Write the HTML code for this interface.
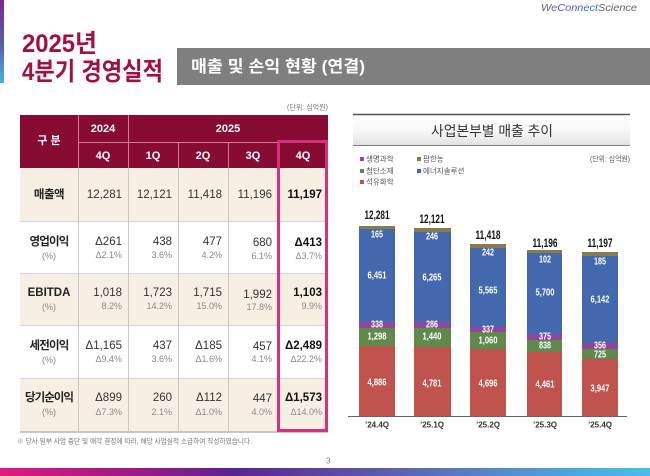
<!DOCTYPE html>
<html><head><meta charset="utf-8">
<style>
html,body{margin:0;padding:0;background:#fff;}
body{width:650px;height:476px;overflow:hidden;position:relative;font-family:"Liberation Sans","Noto Sans CJK KR",sans-serif;}
svg text{font-family:"Liberation Sans","Noto Sans CJK KR",sans-serif;}
</style></head>
<body>
<svg width="650" height="476" viewBox="0 0 650 476" xmlns="http://www.w3.org/2000/svg" style="position:absolute;left:0;top:0">
<defs>
<linearGradient id="lbar" x1="0" y1="0" x2="0" y2="1">
<stop offset="0" stop-color="#7b2a8c"/><stop offset="0.5" stop-color="#5a5aa8"/><stop offset="1" stop-color="#46b2e2"/>
</linearGradient>
<linearGradient id="bbar" x1="0" y1="0" x2="1" y2="0">
<stop offset="0" stop-color="#e2187f"/><stop offset="0.2" stop-color="#a01887"/><stop offset="0.36" stop-color="#5a2490"/><stop offset="0.6" stop-color="#5d5eaf"/><stop offset="0.85" stop-color="#4f9fd8"/><stop offset="1" stop-color="#47bfe9"/>
</linearGradient>
<linearGradient id="tband" x1="0" y1="0" x2="0" y2="1">
<stop offset="0" stop-color="#ffffff"/><stop offset="0.55" stop-color="#f7f7f7"/><stop offset="1" stop-color="#e2e2e2"/>
</linearGradient>
<linearGradient id="logo" x1="0" y1="0" x2="1" y2="0">
<stop offset="0" stop-color="#8a3a9a"/><stop offset="0.5" stop-color="#3a6ec0"/><stop offset="1" stop-color="#2aa6b8"/>
</linearGradient>
</defs>

<!-- left accent bar -->
<rect x="0" y="0" width="4" height="83" fill="url(#lbar)"/>

<!-- logo -->
<text x="541" y="11" font-size="10.5" font-style="italic" textLength="96" lengthAdjust="spacingAndGlyphs"><tspan fill="#666">We</tspan><tspan fill="url(#logo)">Connect</tspan><tspan fill="#666">Science</tspan></text>

<!-- title -->
<text x="22" y="52" font-size="25" font-weight="bold" fill="#a3103f" textLength="75" lengthAdjust="spacingAndGlyphs">2025년</text>
<text x="22" y="80" font-size="25" font-weight="bold" fill="#a3103f" textLength="141" lengthAdjust="spacingAndGlyphs">4분기 경영실적</text>

<!-- banner -->
<rect x="177" y="48" width="473" height="37" fill="#7f7f7f"/>
<text x="191" y="67" dominant-baseline="central" font-size="16.5" font-weight="bold" fill="#fff" textLength="174" lengthAdjust="spacingAndGlyphs">매출 및 손익 현황 (연결)</text>

<!-- table unit -->
<text x="287" y="108" dominant-baseline="central" font-size="7" fill="#777" textLength="41" lengthAdjust="spacingAndGlyphs">(단위: 십억원)</text>

<!-- table header -->
<rect x="20" y="115" width="308" height="53" fill="#870b33"/>
<g stroke="#c9808f" stroke-width="1">
<line x1="78.5" y1="115" x2="78.5" y2="168"/>
<line x1="128.5" y1="115" x2="128.5" y2="168"/>
<line x1="178.5" y1="142" x2="178.5" y2="168"/>
<line x1="228.5" y1="142" x2="228.5" y2="168"/>
<line x1="78" y1="142.5" x2="328" y2="142.5"/>
</g>
<g font-size="11" font-weight="bold" fill="#fff" text-anchor="middle" dominant-baseline="central">
<text x="49" y="141">구 분</text>
<text x="103" y="129">2024</text>
<text x="228" y="129">2025</text>
<text x="103" y="156">4Q</text>
<text x="153" y="156">1Q</text>
<text x="203" y="156">2Q</text>
<text x="253" y="156">3Q</text>
<text x="303" y="156">4Q</text>
</g>

<!-- body rows -->
<rect x="20" y="168" width="308" height="53" fill="#f7efe4"/>
<rect x="20" y="221" width="308" height="52" fill="#ffffff"/>
<rect x="20" y="273" width="308" height="52" fill="#f7efe4"/>
<rect x="20" y="325" width="308" height="53" fill="#ffffff"/>
<rect x="20" y="378" width="308" height="54" fill="#f7efe4"/>
<g stroke="#d6d6d6" stroke-width="1">
<line x1="20" y1="221.5" x2="328" y2="221.5"/>
<line x1="20" y1="273.5" x2="328" y2="273.5"/>
<line x1="20" y1="325.5" x2="328" y2="325.5"/>
<line x1="20" y1="378.5" x2="328" y2="378.5"/>
</g>
<line x1="20" y1="432" x2="328" y2="432" stroke="#b5b5b5" stroke-width="1.5"/>
<g stroke="#c8c8c8" stroke-width="1">
<line x1="78.5" y1="168" x2="78.5" y2="432"/>
<line x1="128.5" y1="168" x2="128.5" y2="432"/>
<line x1="178.5" y1="168" x2="178.5" y2="432"/>
<line x1="228.5" y1="168" x2="228.5" y2="432"/>
</g>

<!-- row labels -->
<g text-anchor="middle" dominant-baseline="central">
<text x="49" y="195" font-size="11.5" font-weight="bold" fill="#222" letter-spacing="-0.5">매출액</text>
<text x="49" y="242" font-size="11.5" font-weight="bold" fill="#222" letter-spacing="-0.8">영업이익</text>
<text x="49" y="256" font-size="9" fill="#888">(%)</text>
<text x="49" y="293" font-size="11.5" font-weight="bold" fill="#222">EBITDA</text>
<text x="49" y="307" font-size="9" fill="#888">(%)</text>
<text x="49" y="346" font-size="11.5" font-weight="bold" fill="#222" letter-spacing="-0.8">세전이익</text>
<text x="49" y="360" font-size="9" fill="#888">(%)</text>
<text x="49" y="398" font-size="11.5" font-weight="bold" fill="#222" letter-spacing="-1">당기순이익</text>
<text x="49" y="412" font-size="9" fill="#888">(%)</text>
</g>

<!-- numbers -->
<g text-anchor="end" dominant-baseline="central" font-size="11.5" fill="#333">
<text x="122" y="195">12,281</text>
<text x="172" y="195">12,121</text>
<text x="222" y="195">11,418</text>
<text x="272" y="195">11,196</text>
<text x="322" y="195" font-weight="bold" fill="#111">11,197</text>

<text x="122" y="242">Δ261</text>
<text x="172" y="242">438</text>
<text x="222" y="242">477</text>
<text x="272" y="243">680</text>
<text x="322" y="243" font-weight="bold" fill="#111">Δ413</text>

<text x="122" y="293">1,018</text>
<text x="172" y="293">1,723</text>
<text x="222" y="293">1,715</text>
<text x="272" y="295">1,992</text>
<text x="322" y="293" font-weight="bold" fill="#111">1,103</text>

<text x="122" y="346">Δ1,165</text>
<text x="172" y="346">437</text>
<text x="222" y="346">Δ185</text>
<text x="272" y="347">457</text>
<text x="322" y="346" font-weight="bold" fill="#111">Δ2,489</text>

<text x="122" y="398">Δ899</text>
<text x="172" y="398">260</text>
<text x="222" y="398">Δ112</text>
<text x="272" y="399">447</text>
<text x="322" y="398" font-weight="bold" fill="#111">Δ1,573</text>
</g>
<g text-anchor="end" dominant-baseline="central" font-size="9" fill="#8a8a8a">
<text x="122" y="255">Δ2.1%</text>
<text x="172" y="255">3.6%</text>
<text x="222" y="255">4.2%</text>
<text x="272" y="256">6.1%</text>
<text x="322" y="256">Δ3.7%</text>

<text x="122" y="306">8.2%</text>
<text x="172" y="306">14.2%</text>
<text x="222" y="306">15.0%</text>
<text x="272" y="307">17.8%</text>
<text x="322" y="306">9.9%</text>

<text x="122" y="359">Δ9.4%</text>
<text x="172" y="359">3.6%</text>
<text x="222" y="359">Δ1.6%</text>
<text x="272" y="359">4.1%</text>
<text x="322" y="359">Δ22.2%</text>

<text x="122" y="412">Δ7.3%</text>
<text x="172" y="412">2.1%</text>
<text x="222" y="412">Δ1.0%</text>
<text x="272" y="412">4.0%</text>
<text x="322" y="412">Δ14.0%</text>
</g>

<!-- highlight box -->
<rect x="278.5" y="141.5" width="48" height="289" fill="none" stroke="#d7307c" stroke-width="3"/>

<!-- footnote -->
<text x="17" y="442" dominant-baseline="central" font-size="7" fill="#777" textLength="235" lengthAdjust="spacingAndGlyphs">※ 당사 일부 사업 중단 및 매각 결정에 따라, 해당 사업실적 소급하여 작성하였습니다.</text>
<text x="326" y="461" dominant-baseline="central" font-size="8" fill="#888">3</text>

<!-- bottom bar -->
<rect x="0" y="468" width="650" height="8" fill="url(#bbar)"/>

<!-- chart title band -->
<rect x="353" y="115" width="277" height="30" fill="url(#tband)"/>
<line x1="353" y1="114.5" x2="630" y2="114.5" stroke="#555" stroke-width="1.5"/>
<line x1="353" y1="145.5" x2="630" y2="145.5" stroke="#808080" stroke-width="1"/>
<text x="492" y="131" text-anchor="middle" dominant-baseline="central" font-size="14" fill="#333" textLength="122" lengthAdjust="spacingAndGlyphs">사업본부별 매출 추이</text>

<!-- legend -->
<g font-size="7.5" fill="#555" dominant-baseline="central">
<rect x="360" y="157" width="4" height="4" fill="#8e479c"/><text x="366" y="159">생명과학</text>
<rect x="417" y="157" width="4" height="4" fill="#8b7a4b"/><text x="423" y="159">팜한농</text>
<rect x="360" y="169" width="4" height="4" fill="#5f8a4c"/><text x="366" y="171">첨단소재</text>
<rect x="417" y="169" width="4" height="4" fill="#4468ae"/><text x="423" y="171">에너지솔루션</text>
<rect x="360" y="180" width="4" height="4" fill="#c0534e"/><text x="366" y="182">석유화학</text>
<text x="590" y="159" textLength="40" lengthAdjust="spacingAndGlyphs">(단위: 십억원)</text>
</g>

<!-- bars -->
<g>
<!-- bar 1 -->
<rect x="359" y="226" width="36" height="3" fill="#8b7a4b"/>
<rect x="359" y="229" width="36" height="93" fill="#4468ae"/>
<rect x="359" y="322" width="36" height="6" fill="#8e479c"/>
<rect x="359" y="328" width="36" height="18" fill="#5f8a4c"/>
<rect x="359" y="346" width="36" height="70" fill="#c0534e"/>
<!-- bar 2 -->
<rect x="414" y="228" width="37" height="4" fill="#8b7a4b"/>
<rect x="414" y="232" width="37" height="90" fill="#4468ae"/>
<rect x="414" y="322" width="37" height="6" fill="#8e479c"/>
<rect x="414" y="328" width="37" height="19" fill="#5f8a4c"/>
<rect x="414" y="347" width="37" height="69" fill="#c0534e"/>
<!-- bar 3 -->
<rect x="470" y="244" width="36" height="4" fill="#8b7a4b"/>
<rect x="470" y="248" width="36" height="79" fill="#4468ae"/>
<rect x="470" y="327" width="36" height="5" fill="#8e479c"/>
<rect x="470" y="332" width="36" height="17" fill="#5f8a4c"/>
<rect x="470" y="349" width="36" height="67" fill="#c0534e"/>
<!-- bar 4 -->
<rect x="527" y="250" width="35" height="3" fill="#8b7a4b"/>
<rect x="527" y="253" width="35" height="81" fill="#4468ae"/>
<rect x="527" y="334" width="35" height="6" fill="#8e479c"/>
<rect x="527" y="340" width="35" height="12" fill="#5f8a4c"/>
<rect x="527" y="352" width="35" height="64" fill="#c0534e"/>
<!-- bar 5 -->
<rect x="582" y="252" width="36" height="4" fill="#8b7a4b"/>
<rect x="582" y="256" width="36" height="87" fill="#4468ae"/>
<rect x="582" y="343" width="36" height="6" fill="#8e479c"/>
<rect x="582" y="349" width="36" height="10" fill="#5f8a4c"/>
<rect x="582" y="359" width="36" height="57" fill="#c0534e"/>
</g>
<line x1="348" y1="416.5" x2="627" y2="416.5" stroke="#666" stroke-width="1"/>

<!-- total labels -->
<g font-size="12" font-weight="bold" fill="#111" text-anchor="middle" dominant-baseline="central">
<text x="377" y="215" textLength="25" lengthAdjust="spacingAndGlyphs">12,281</text>
<text x="432" y="219" textLength="25" lengthAdjust="spacingAndGlyphs">12,121</text>
<text x="488" y="235" textLength="25" lengthAdjust="spacingAndGlyphs">11,418</text>
<text x="545" y="243" textLength="25" lengthAdjust="spacingAndGlyphs">11,196</text>
<text x="600" y="243" textLength="25" lengthAdjust="spacingAndGlyphs">11,197</text>
</g>

<!-- segment labels -->
<g font-size="10" font-weight="bold" fill="#fff" text-anchor="middle" dominant-baseline="central">
<text x="377" y="235" textLength="12" lengthAdjust="spacingAndGlyphs">165</text>
<text x="377" y="276" textLength="19" lengthAdjust="spacingAndGlyphs">6,451</text>
<text x="377" y="325" textLength="12" lengthAdjust="spacingAndGlyphs">338</text>
<text x="377" y="337" textLength="19" lengthAdjust="spacingAndGlyphs">1,298</text>
<text x="377" y="383" textLength="19" lengthAdjust="spacingAndGlyphs">4,886</text>

<text x="432" y="237" textLength="12" lengthAdjust="spacingAndGlyphs">246</text>
<text x="432" y="278" textLength="19" lengthAdjust="spacingAndGlyphs">6,265</text>
<text x="432" y="325" textLength="12" lengthAdjust="spacingAndGlyphs">286</text>
<text x="432" y="337" textLength="19" lengthAdjust="spacingAndGlyphs">1,440</text>
<text x="432" y="384" textLength="19" lengthAdjust="spacingAndGlyphs">4,781</text>

<text x="488" y="253" textLength="12" lengthAdjust="spacingAndGlyphs">242</text>
<text x="488" y="291" textLength="19" lengthAdjust="spacingAndGlyphs">5,565</text>
<text x="488" y="330" textLength="12" lengthAdjust="spacingAndGlyphs">337</text>
<text x="488" y="341" textLength="19" lengthAdjust="spacingAndGlyphs">1,060</text>
<text x="488" y="384" textLength="19" lengthAdjust="spacingAndGlyphs">4,696</text>

<text x="545" y="260" textLength="12" lengthAdjust="spacingAndGlyphs">102</text>
<text x="545" y="293" textLength="19" lengthAdjust="spacingAndGlyphs">5,700</text>
<text x="545" y="337" textLength="12" lengthAdjust="spacingAndGlyphs">375</text>
<text x="545" y="346" textLength="12" lengthAdjust="spacingAndGlyphs">838</text>
<text x="545" y="385" textLength="19" lengthAdjust="spacingAndGlyphs">4,461</text>

<text x="600" y="262" textLength="12" lengthAdjust="spacingAndGlyphs">185</text>
<text x="600" y="300" textLength="19" lengthAdjust="spacingAndGlyphs">6,142</text>
<text x="600" y="346" textLength="12" lengthAdjust="spacingAndGlyphs">356</text>
<text x="600" y="355" textLength="12" lengthAdjust="spacingAndGlyphs">725</text>
<text x="600" y="389" textLength="19" lengthAdjust="spacingAndGlyphs">3,947</text>
</g>

<!-- x labels -->
<g font-size="8" font-weight="bold" fill="#333" text-anchor="middle" dominant-baseline="central">
<text x="377" y="425">’24.4Q</text>
<text x="432" y="425">’25.1Q</text>
<text x="488" y="425">’25.2Q</text>
<text x="545" y="425">’25.3Q</text>
<text x="600" y="425">’25.4Q</text>
</g>
</svg>
</body></html>
